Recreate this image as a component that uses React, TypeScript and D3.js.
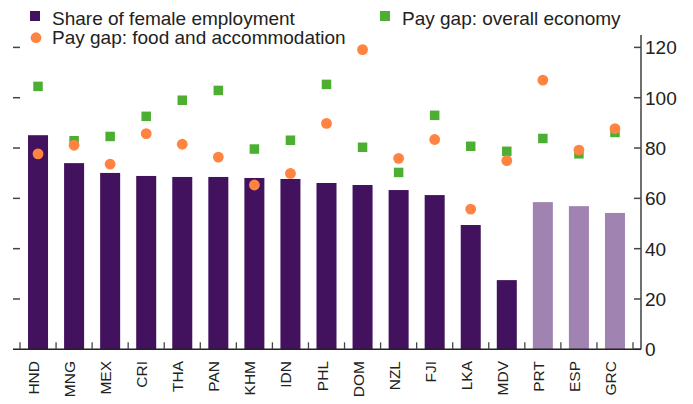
import * as d3 from "d3";

const countries = ["HND", "MNG", "MEX", "CRI", "THA", "PAN", "KHM", "IDN", "PHL", "DOM", "NZL", "FJI", "LKA", "MDV", "PRT", "ESP", "GRC"];
const femaleShare = [85.1, 74.0, 70.1, 68.9, 68.5, 68.5, 68.1, 67.7, 66.1, 65.3, 63.3, 61.3, 49.4, 27.5, 58.5, 56.9, 54.2];
const payGapFood = [77.7, 81.1, 73.6, 85.7, 81.5, 76.4, 65.3, 69.9, 89.8, 119.1, 75.9, 83.4, 55.7, 75.0, 107.0, 79.2, 87.7];
const payGapOverall = [104.5, 82.9, 84.6, 92.6, 99.0, 102.9, 79.6, 83.1, 105.3, 80.3, 70.3, 93.0, 80.7, 78.7, 83.8, 77.7, 86.2];
const advanced = ["PRT", "ESP", "GRC"];
const yTicks = [0, 20, 40, 60, 80, 100, 120];

const W = 693, H = 404;
const DARK = "#43125f", LIGHT = "#a183b1", GREEN = "#4caf32", ORANGE = "#ff8442";
const FONT = "'Liberation Sans', Arial, sans-serif";

const App = () => {
  const x = d3.scaleBand().domain(countries).range([20, 633]).paddingInner(0.445).paddingOuter(0.2225);
  const y = d3.scaleLinear().domain([0, 120]).range([349.3, 47.4]);
  const axisX = 641;
  const half = 4.75;

  const rows = countries.map((c, i) => ({ c, share: femaleShare[i], food: payGapFood[i], all: payGapOverall[i] }));
  const step = x.step();
  const bounds = d3.range(countries.length + 1).map(i => 20 + i * step);

  return (
    <svg width={W} height={H} style={{ position: "absolute", left: 0, top: 0, background: "#fff" }} fontFamily={FONT}>
      {/* bars */}
      {rows.map(d => (
        <rect key={d.c} x={x(d.c)} y={y(d.share)} width={x.bandwidth()} height={y(0) - y(d.share)}
          fill={advanced.includes(d.c) ? LIGHT : DARK} />
      ))}
      {/* overall economy squares */}
      {rows.map(d => (
        <rect key={"s" + d.c} x={x(d.c) + x.bandwidth() / 2 - half} y={y(d.all) - half} width={half * 2} height={half * 2} fill={GREEN} />
      ))}
      {/* food & accommodation dots */}
      {rows.map(d => (
        <circle key={"c" + d.c} cx={x(d.c) + x.bandwidth() / 2} cy={y(d.food)} r={5.4} fill={ORANGE} />
      ))}

      {/* left ticks, no labels */}
      {yTicks.slice(1).map(t => (
        <line key={"l" + t} x1={13} x2={20} y1={y(t)} y2={y(t)} stroke="#444" strokeWidth={1.5} />
      ))}
      {/* right axis */}
      <line x1={axisX} x2={axisX} y1={35} y2={y(0)} stroke="#222" strokeWidth={1.3} />
      {yTicks.map(t => (
        <g key={"r" + t}>
          <line x1={634} x2={axisX} y1={y(t)} y2={y(t)} stroke="#444" strokeWidth={1.5} />
          <text x={645} y={y(t)} dy="0.36em" fontSize={19} fill="#222">{t}</text>
        </g>
      ))}

      {/* x axis */}
      <line x1={13} x2={axisX} y1={y(0)} y2={y(0)} stroke="#222" strokeWidth={1.5} />
      {bounds.map((b, i) => (
        <line key={"b" + i} x1={b} x2={b} y1={y(0) - 7} y2={y(0)} stroke="#444" strokeWidth={1.3} />
      ))}
      {rows.map(d => (
        <text key={"t" + d.c} transform={`translate(${x(d.c) + x.bandwidth() / 2 + 1},361) rotate(-90)`}
          textAnchor="end" fontSize={15.5} fill="#222">{d.c}</text>
      ))}

      {/* legend */}
      <rect x={30} y={11} width={10} height={10} fill={DARK} />
      <text x={52} y={25} fontSize={19} fill="#222">Share of female employment</text>
      <circle cx={36} cy={37.7} r={5.4} fill={ORANGE} />
      <text x={52} y={44.3} fontSize={19} fill="#222">Pay gap: food and accommodation</text>
      <rect x={380} y={11} width={10} height={10} fill={GREEN} />
      <text x={402} y={25} fontSize={19} fill="#222">Pay gap: overall economy</text>
    </svg>
  );
};

export default App;
